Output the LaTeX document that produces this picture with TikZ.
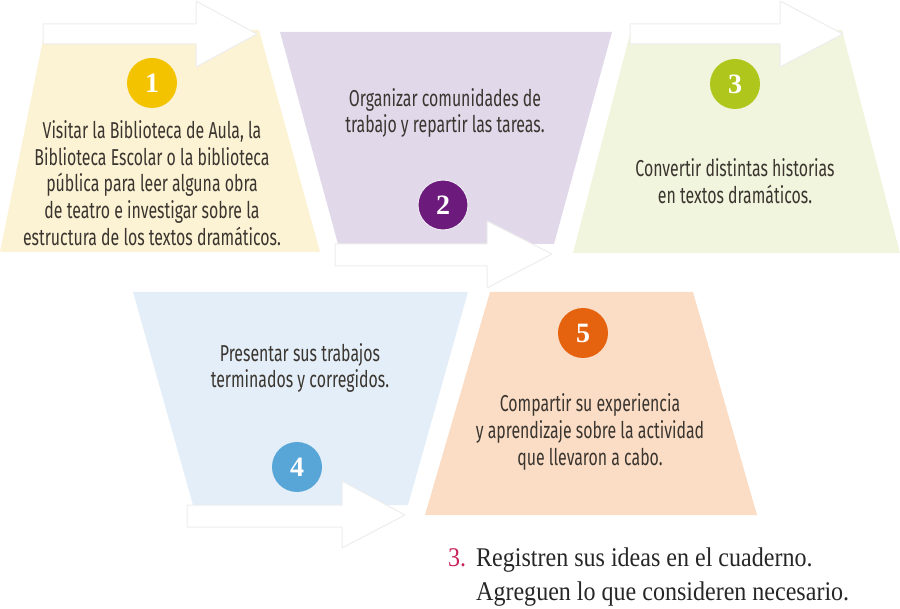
\documentclass[tikz,border=0pt]{standalone}
\usepackage{fontspec}
\setmainfont{Liberation Serif}
\newfontfamily\condensada[FakeStretch=0.69]{Fira Sans}
\newfontfamily\consigna[FakeStretch=0.89]{Liberation Serif}
\usetikzlibrary{positioning}

\definecolor{amarillo}{HTML}{FCF2D4}
\definecolor{lila}{HTML}{E1D8EA}
\definecolor{limon}{HTML}{F1F5DD}
\definecolor{celeste}{HTML}{E3EEF8}
\definecolor{durazno}{HTML}{FBDDC6}
\definecolor{oro}{HTML}{F4C300}
\definecolor{morado}{HTML}{6C1A7C}
\definecolor{verde}{HTML}{AFC61C}
\definecolor{azul}{HTML}{58A6D8}
\definecolor{naranja}{HTML}{E5630F}
\definecolor{tinta}{HTML}{3A352F}
\definecolor{rosa}{HTML}{C8235A}

\tikzset{
  paso/.style={
    fill=#1,
    draw=none
  },
  flecha/.style={
    fill=white,
    draw=black!7,
    line width=1pt,
    line join=round
  },
  num/.style={
    circle,
    fill=#1,
    minimum size=50pt,
    inner sep=0pt,
    text=white,
    font=\fontsize{28}{28}\selectfont\bfseries
  },
  texto/.style={
    align=center,
    text=tinta,
    font=\condensada\fontsize{23}{26.7}\selectfont
  },
  linea/.style={
    anchor=base west,
    inner sep=0pt,
    text=black!85,
    font=\consigna\fontsize{27}{34}\selectfont
  }
}

\begin{document}
\begin{tikzpicture}[x=1pt, y=-1pt]
  \useasboundingbox (0,0) rectangle (900,609);

  % Trapecios
  \fill[paso=amarillo] (0,252) -- (45,30) -- (259,30) -- (320,252) -- cycle;
  \fill[paso=lila] (280,32) -- (612,32) -- (554,244) -- (338,244) -- cycle;
  \fill[paso=limon] (573,253) -- (631,30) -- (842,30) -- (900,253) -- cycle;
  \fill[paso=celeste] (133,292) -- (468,292) -- (408,505) -- (193,505) -- cycle;
  \fill[paso=durazno] (490,292) -- (693,292) -- (757,515) -- (425,515) -- cycle;

  % Flechas blancas
  \draw[flecha] (43,24) -- (196,24) -- (196,1) -- (257,34) -- (196,67) -- (196,44) -- (43,44) -- cycle;
  \draw[flecha] (335,244) -- (487,244) -- (487,221) -- (552,254) -- (487,288) -- (487,266) -- (335,266) -- cycle;
  \draw[flecha] (630,24) -- (780,24) -- (780,1) -- (843,34) -- (780,67) -- (780,44) -- (630,44) -- cycle;
  \draw[flecha] (187,505) -- (342,505) -- (342,481) -- (405,515) -- (342,548) -- (342,527) -- (187,527) -- cycle;

  % Numeros
  \node[num=oro] (n1) at (152,83) {1};
  \node[num=morado, draw=lila!60!white, line width=1pt] (n2) at (443,205) {2};
  \node[num=verde] (n3) at (735,84) {3};
  \node[num=azul] (n4) at (297,467) {4};
  \node[num=naranja] (n5) at (583,333) {5};

  % Textos
  \node[texto] (t1) at (152,183) {Visitar la Biblioteca de Aula, la\\Biblioteca Escolar o la biblioteca\\pública para leer alguna obra\\de teatro e investigar sobre la\\estructura de los textos dramáticos.};
  \node[texto] (t2) at (445,113) {Organizar comunidades de\\trabajo y repartir las tareas.};
  \node[texto] (t3) at (735,181) {Convertir distintas historias\\en textos dramáticos.};
  \node[texto] (t4) at (300,368) {Presentar sus trabajos\\terminados y corregidos.};
  \node[texto] (t5) at (590,432) {Compartir su experiencia\\y aprendizaje sobre la actividad\\que llevaron a cabo.};

  % Consigna
  \node[linea, text=rosa] (c0) at (448,566) {3.};
  \node[linea] (c1) at (476,566) {Registren sus ideas en el cuaderno.};
  \node[linea] (c2) at (476,600) {Agreguen lo que consideren necesario.};
\end{tikzpicture}
\end{document}
